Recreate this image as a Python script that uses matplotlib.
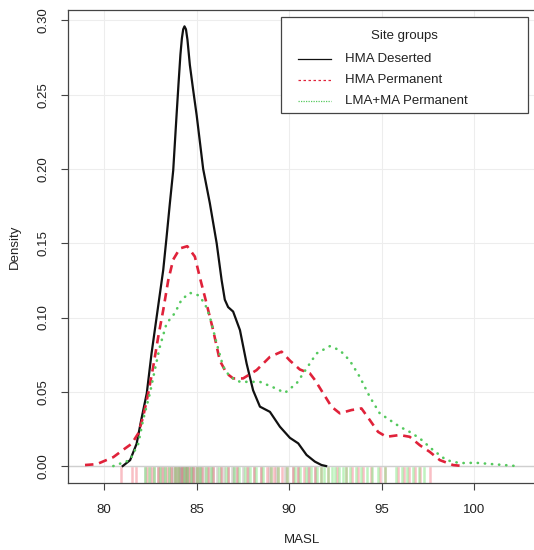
"""Density of site elevations (MASL) for three site groups, with a rug underneath."""
import matplotlib

matplotlib.use("Agg")
import matplotlib.pyplot as plt  # noqa: E402
from matplotlib.patches import Rectangle  # noqa: E402

plt.rcParams["font.family"] = ["Liberation Sans", "DejaVu Sans"]

# Density curves as (MASL, density) points.
deserted_x = [81.0, 81.4, 81.75, 82.0, 82.3, 82.56, 82.83, 83.19, 83.37, 83.55, 83.73,
              83.91, 84.02, 84.12, 84.2, 84.27, 84.34, 84.42, 84.5, 84.63, 84.8, 85.0,
              85.35, 85.71, 86.08, 86.35, 86.52, 86.7, 86.97, 87.34, 87.7, 88.05, 88.42,
              88.96, 89.5, 90.04, 90.49, 90.94, 91.39, 91.75, 92.0]
deserted_y = [0.0, 0.004, 0.015, 0.031, 0.049, 0.076, 0.100, 0.132, 0.154, 0.177, 0.199,
              0.236, 0.258, 0.277, 0.288, 0.294, 0.296, 0.294, 0.287, 0.270, 0.254, 0.236,
              0.200, 0.177, 0.150, 0.125, 0.112, 0.107, 0.104, 0.0915, 0.069, 0.051, 0.040,
              0.0365, 0.0265, 0.019, 0.0153, 0.0075, 0.003, 0.0007, 0.0]

perm_x = [78.96, 79.6, 80.49, 81.03, 81.48, 81.84, 82.1, 82.38, 82.65, 82.92, 83.19,
          83.46, 83.73, 84.09, 84.49, 84.9, 85.17, 85.44, 85.71, 85.89, 86.25, 86.62,
          86.97, 87.51, 88.24, 88.96, 89.59, 90.04, 90.58, 91.12, 91.39, 91.84, 92.29,
          92.74, 93.37, 93.91, 94.36, 94.81, 95.26, 95.98, 96.52, 97.07, 97.6, 98.15,
          98.86, 99.4]
perm_y = [0.0007, 0.0013, 0.006, 0.011, 0.015, 0.022, 0.033, 0.049, 0.067, 0.087, 0.105,
          0.125, 0.139, 0.1465, 0.148, 0.141, 0.127, 0.114, 0.1005, 0.0915, 0.071, 0.0624,
          0.059, 0.059, 0.0646, 0.0735, 0.077, 0.071, 0.065, 0.0624, 0.058, 0.049, 0.040,
          0.0355, 0.0377, 0.0388, 0.031, 0.023, 0.0197, 0.0209, 0.0197, 0.014, 0.0096,
          0.004, 0.0007, 0.0]

lma_x = [80.49, 81.39, 81.84, 82.1, 82.47, 82.74, 83.0, 83.37, 83.82, 84.18, 84.63,
         85.08, 85.44, 85.71, 86.08, 86.43, 86.8, 87.34, 87.7, 88.42, 89.14, 89.77,
         90.4, 90.94, 91.48, 92.2, 92.74, 93.28, 93.82, 94.36, 94.9, 95.44, 95.98,
         96.52, 97.07, 97.78, 98.5, 99.22, 100.1, 101.0, 102.1, 102.4]
lma_y = [0.0, 0.004, 0.015, 0.031, 0.049, 0.065, 0.080, 0.096, 0.103, 0.112, 0.1166,
         0.115, 0.1095, 0.1005, 0.0826, 0.067, 0.060, 0.0567, 0.0567, 0.0567, 0.053, 0.0493,
         0.0556, 0.0657, 0.0758, 0.0807, 0.078, 0.071, 0.060, 0.0466, 0.0355, 0.031, 0.0265,
         0.023, 0.0186, 0.0108, 0.004, 0.002, 0.0022, 0.0013, 0.0002, 0.0]

# Rug: individual site elevations per group (estimated from the tick marks).
deserted_sites = [82.2, 82.5, 82.7, 82.9, 83.0, 83.2, 83.3, 83.5, 83.6, 83.7, 83.8, 83.9,
                  84.0, 84.05, 84.1, 84.15, 84.2, 84.25, 84.3, 84.35, 84.4, 84.45, 84.5,
                  84.6, 84.7, 84.75, 84.8, 84.9, 85.0, 85.1, 85.2, 85.3, 85.45, 85.6, 85.75,
                  85.9, 86.1, 86.3, 86.5, 86.7, 86.9, 87.0, 87.2, 87.5, 87.8, 88.1, 88.5,
                  88.9, 89.3, 89.8, 90.2, 90.5, 91.0, 91.4]
perm_sites = [80.9, 81.5, 81.7, 82.3, 82.6, 82.9, 83.1, 83.4, 83.6, 83.8, 84.0, 84.2,
              84.4, 84.6, 84.8, 85.0, 85.3, 85.6, 85.9, 86.3, 86.7, 87.2, 87.7, 88.1,
              88.5, 88.8, 89.0, 89.2, 89.4, 89.6, 89.9, 90.2, 90.5, 90.8, 91.1, 91.4,
              91.7, 92.1, 92.6, 93.1, 93.4, 93.7, 94.0, 94.4, 94.9, 95.2, 95.9, 96.2,
              96.5, 96.8, 97.1, 97.6]
lma_sites = [82.2, 82.4, 82.7, 83.0, 83.3, 83.5, 83.8, 84.0, 84.3, 84.5, 84.7, 85.0,
             85.2, 85.5, 85.8, 86.2, 86.6, 87.0, 87.3, 87.6, 87.9, 88.2, 88.6, 89.0,
             89.4, 89.9, 90.3, 90.6, 90.9, 91.2, 91.5, 91.7, 91.9, 92.1, 92.3, 92.5,
             92.7, 92.9, 93.1, 93.3, 93.6, 93.9, 94.2, 94.5, 94.8, 95.2, 95.8, 96.1,
             96.4, 96.7, 97.0, 97.3]

group_names = ["HMA Deserted", "HMA Permanent", "LMA+MA Permanent"]
x_ticks = [80, 85, 90, 95, 100]
y_ticks = [0.00, 0.05, 0.10, 0.15, 0.20, 0.25, 0.30]

BLACK, RED, GREEN = "#111111", "#e0223a", "#55c95e"
TEXT = "#222222"
W, H = 534, 550
AX_L, AX_R, AX_T, AX_B = 68, 536, 10, 483

fig = plt.figure(figsize=(W / 100, H / 100), dpi=100)
ax = fig.add_axes([AX_L / W, 1 - AX_B / H, (AX_R - AX_L) / W, (AX_B - AX_T) / H])

ax.set_xlim(78.04, 103.35)
ax.set_ylim(-0.0114, 0.307)

# faint grid + zero baseline, like R's density plot
for xv in x_ticks:
    ax.axvline(xv, color="#ededed", lw=0.8, zorder=0)
for yv in y_ticks:
    ax.axhline(yv, color="#ededed", lw=0.8, zorder=0)
ax.axhline(0, color="#cfcfcf", lw=1.0, zorder=1)

ax.plot(deserted_x, deserted_y, color=BLACK, lw=1.6, zorder=3, solid_joinstyle="round")
ax.plot(perm_x, perm_y, color=RED, lw=1.9, ls=(0, (3.2, 2.2)), zorder=3)
ax.plot(lma_x, lma_y, color=GREEN, lw=1.9, ls=(0, (0.1, 2.6)),
        dash_capstyle="round", zorder=3)

# rug along the bottom, drawn in axes-fraction height
rug_top = 15 / (AX_B - AX_T)
for sites, col in ((deserted_sites, (0.45, 0.4, 0.35, 0.28)),
                   (perm_sites, (0.95, 0.45, 0.5, 0.45)),
                   (lma_sites, (0.5, 0.9, 0.5, 0.5))):
    for s in sites:
        ax.axvline(s, ymin=0, ymax=rug_top, color=col, lw=1.8, zorder=2)

ax.set_xticks(x_ticks)
ax.set_yticks(y_ticks)
ax.set_xticklabels([str(v) for v in x_ticks])
ax.set_yticklabels([f"{v:.2f}" for v in y_ticks], rotation=90, va="center")
ax.tick_params(direction="out", length=5, width=0.8, colors="#444444",
               labelcolor=TEXT, labelsize=9.5, pad=8)
ax.tick_params(axis="x", pad=10)
for sp in ax.spines.values():
    sp.set_color("#444444")
    sp.set_linewidth(0.9)

ax.set_xlabel("MASL", fontsize=9.5, color=TEXT, labelpad=13)
ax.set_ylabel("Density", fontsize=9.5, color=TEXT, labelpad=12)


# R-style legend box, placed in pixel terms converted to axes fractions
def px(x, y):
    return (x - AX_L) / (AX_R - AX_L), 1 - (y - AX_T) / (AX_B - AX_T)


x0, y0 = px(281, 113)
x1, y1 = px(528, 17)
ax.add_patch(Rectangle((x0, y0), x1 - x0, y1 - y0, transform=ax.transAxes,
                       facecolor="white", edgecolor="#444444", lw=0.9, zorder=5))
tx, ty = px(404, 36)
ax.text(tx, ty, "Site groups", transform=ax.transAxes, ha="center", va="center",
        fontsize=9.5, color=TEXT, zorder=6)
styles = [dict(color=BLACK, ls="-"),
          dict(color=RED, ls=(0, (2, 2))),
          dict(color=GREEN, ls=(0, (1, 1)))]
for name, st, yp in zip(group_names, styles, [59, 80, 101]):
    la, lb = px(298, yp), px(331, yp)
    ax.plot([la[0], lb[0]], [la[1], lb[1]], transform=ax.transAxes, lw=0.9,
            zorder=6, **st)
    tp = px(345, yp)
    ax.text(tp[0], tp[1], name, transform=ax.transAxes, ha="left", va="center",
            fontsize=9.5, color=TEXT, zorder=6)

fig.savefig("out.png", dpi=100)
